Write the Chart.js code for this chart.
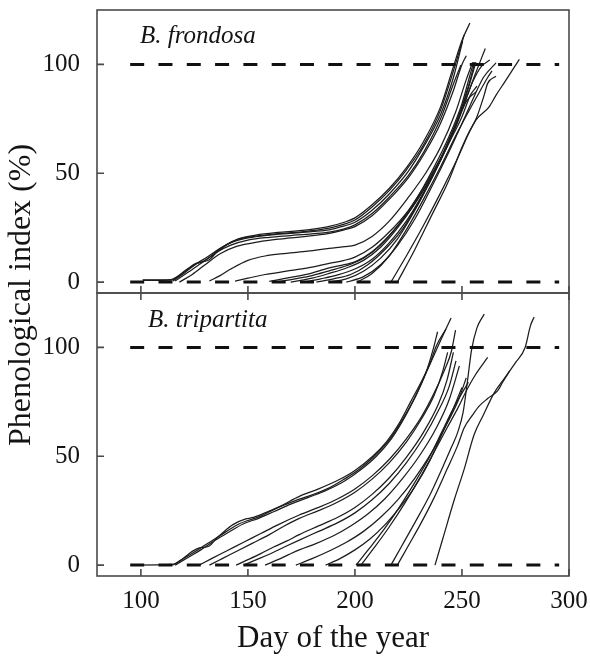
<!DOCTYPE html>
<html>
<head>
<meta charset="utf-8">
<script src="https://cdn.jsdelivr.net/npm/chart.js@4.4.0/dist/chart.umd.min.js"></script>
<style>
  html, body { margin: 0; padding: 0; background: #ffffff; }
  #wrap { position: relative; width: 590px; height: 658px; }
  canvas { position: absolute; left: 0; top: 0; }
</style>
</head>
<body>
<div id="wrap">
  <canvas id="topChart" width="590" height="658"></canvas>
  <canvas id="bottomChart" width="590" height="658"></canvas>
</div>
<script>
// ---------- axis ticks / labels ----------
const xTicks = [100, 150, 200, 250, 300];
const yTicks = [0, 50, 100];
const xTitle = 'Day of the year';
const yTitle = 'Phenological index (%)';
const topLabel = 'B. frondosa';
const bottomLabel = 'B. tripartita';

// ---------- dashed reference levels ----------
const refLevels = [0, 100];
const refDays = [95, 295.4];

// ---------- B. frondosa curves: [day, index %] ----------
const bf01 = [[100.8,1],[110,1],[114,1.2],[121,5.5],[125.7,8.6],[128.8,9.3],[131.9,10.3],[135,13.2],[139.7,17],[145.9,20],[153.7,21.6],[164,22.8],[174,23.6],[182,24.6],[188,25.6],[195,27.5],[200,29.5],[208,35.5],[216,43],[224,52.5],[232,64.5],[240,80.5],[246,99],[250,111],[253.7,119]];
const bf02 = [[101,0.8],[114,0.9],[120,4.5],[125,8],[129,9.5],[133,12],[138,16],[145,19.5],[153,21],[164,22.3],[174,23],[182,23.9],[188,24.8],[195,26.6],[200,28.5],[208,34.5],[216,42],[224,51.5],[232,63],[240,79],[246,97],[251,113.5]];
const bf03 = [[115,0.5],[120,4],[126,8.5],[131,11.5],[137,15.5],[143,18.5],[150,20.3],[160,21.6],[170,22.4],[180,23.2],[188,24],[195,25.8],[200,27.5],[208,33],[216,40.5],[225,51],[232,62],[240,77],[246,94],[250.3,110.7]];
const bf04 = [[116,0.5],[122,4.5],[128,8.5],[135,13.5],[142,17],[150,19.3],[160,20.6],[170,21.4],[180,22.2],[188,23],[195,24.5],[200,26.3],[208,31.5],[216,39],[225,49],[232,59.5],[240,75],[246,91],[249.5,99.7]];
const bf05 = [[118,0],[124,3.5],[130,8],[137,13],[145,16.5],[155,18.5],[165,19.8],[175,20.8],[188,22.4],[195,24],[200,25.5],[208,30.5],[216,38],[225,48],[233,60],[240,73],[246,88],[250,100],[252,104]];
const bf06 = [[132,0.5],[137,3],[142,6],[150,10],[158,12],[168,13.2],[178,14.2],[188,15.5],[195,16.3],[200,17],[208,21],[216,28],[225,39],[233,50],[240,62],[247,78],[252,93],[255,101]];
const bf07 = [[144,0.5],[150,1.8],[158,3.5],[168,5],[178,6.5],[188,8.6],[195,10],[200,11.5],[208,16],[216,23],[225,33],[233,45],[240,57],[247,72],[252,86],[256.5,101]];
const bf08 = [[160,0.3],[168,1.8],[178,3.7],[188,6.5],[195,8],[200,9.3],[208,14],[216,21.5],[225,32],[233,44],[241,58],[248,75],[253,90],[256,101]];
const bf09 = [[163,0],[172,1.5],[180,3],[188,5.2],[196,7.5],[204,11],[212,17],[220,26],[228,37],[236,51],[244,67],[250,82],[254,96],[255.5,101]];
const bf10 = [[170,0],[180,1.8],[188,4],[196,6.5],[204,10],[212,16],[220,25],[228,36],[236,49],[244,65],[250,79],[256,95],[260.9,107.3]];
const bf11 = [[176,0],[184,1.5],[192,3.3],[200,6],[208,10.5],[216,18],[224,28],[232,41],[240,56],[247,71],[252,83],[256.5,87.4]];
const bf12 = [[182,0],[190,1.5],[198,3.5],[206,8],[214,15],[222,24],[230,37],[238,52],[245,68],[251,82],[255,92],[259,99],[263,102]];
const bf13 = [[188,0],[196,1.5],[204,5],[212,11],[220,20],[228,33],[236,48],[244,64],[250,76],[254,86],[257,90]];
const bf14 = [[196,0],[204,2.5],[212,8],[220,17],[228,29],[236,44],[244,60],[251,75],[256,86],[260,94],[265.9,100.7]];
const bf15 = [[201,0],[208,4],[216,12],[224,24],[232,38],[240,53],[248,69],[254,80],[258,87],[262,94],[264,97]];
const bf16 = [[216.8,0],[224,12],[232,26],[240,41],[248,57],[253,68],[257,76],[260.4,86],[262,91.3],[265.9,94.6]];
const bf17 = [[219.8,0],[228,15],[236,31],[244,47],[250,62],[256.5,74.4],[262.7,80.5],[266,86],[270,92],[276.8,102.3]];
const frondosaSeries = [bf01,bf02,bf03,bf04,bf05,bf06,bf07,bf08,bf09,bf10,bf11,bf12,bf13,bf14,bf15,bf16,bf17];

// ---------- B. tripartita curves: [day, index %] ----------
const bt01 = [[96,0],[114.8,0.3],[119,2.5],[124,6.3],[127,7.8],[132,8.8],[135,12],[138,14.7],[143,18.6],[149,21.2],[152,21.8],[158,24],[165,27],[174,31.6],[183,35],[192.7,39.3],[200,43.5],[208.3,50],[215,57],[220.8,65.4],[226,75],[231.6,85.4],[235,92.5],[238,100.7],[242.5,108.4]];
const bt02 = [[114.8,0],[120,3],[125,6],[130,9.2],[135,12.3],[140,15.5],[146,19],[150,20.5],[156,22.5],[162,25.5],[168,28],[174,30.3],[180,32.3],[188,35.5],[195,39.5],[202,44],[209,50],[216,57.5],[222,66.5],[228,77],[233,88],[236.5,99],[238.6,107.2]];
const bt03 = [[116,0],[122,3.5],[128,7],[134,11],[140,14.5],[148,19],[155,21.5],[162,24.5],[170,28],[178,31],[187,34.5],[195,38.5],[203,44],[210,50],[217,58],[223,67.5],[229,79],[234,90],[239,101],[244.9,113.5]];
const bt04 = [[127.2,0],[133,3],[140,6.5],[148,10.5],[156,14.5],[164,18.5],[174,23],[183,26.5],[192,30.5],[200,35],[208,41],[216,48.5],[224,58],[231,68],[237,79],[242,90],[245,98],[247,108]];
const bt05 = [[132,0],[138,3],[145,6.5],[152,10],[160,14],[167,18],[174,21.5],[183,25],[192,29],[200,33.5],[208,39.5],[216,47],[224,56.5],[231,67],[237,78],[241,89],[243.3,97.7]];
const bt06 = [[144.5,0],[150,2.5],[156,5.3],[162,8.3],[168,11],[174,14],[183,18],[192,22],[200,26.5],[208,32.5],[216,40],[224,49.5],[232,61],[239,74],[243,85],[246,97.7]];
const bt07 = [[148,0],[154,2.5],[160,5],[167,8.3],[174,11.5],[183,15.5],[192,19.5],[200,24],[208,30],[216,37.5],[224,47],[232,58.5],[239,71],[244,82],[247.2,93.8]];
const bt08 = [[158,0],[164,2.5],[169,4.8],[174,7],[182,10],[190,13.5],[198,18],[206,23.5],[214,30.5],[222,39.5],[230,50],[238,63],[244,76],[248.8,91.5]];
const bt09 = [[172.4,0],[180,3],[188,6.5],[196,10.5],[204,15.5],[212,22],[220,30],[228,40],[236,52],[243,65],[248,75],[252,86]];
const bt10 = [[186.3,0],[193,3],[200,7],[207,12],[214,18.5],[221,26.5],[228,36],[235,48],[241,61],[246,72],[250,81.6]];
const bt11 = [[200.5,0],[207,8],[214,17],[221,27],[228,38],[235,50],[241,62],[246,72],[250,79],[253,84]];
const bt12 = [[202.8,0],[209,8],[216,17.5],[223,28],[230,39.5],[237,52],[243,63],[248,72],[252,80],[256,87],[262,95.4]];
const bt13 = [[216.8,0],[222,9],[228,19.5],[234.7,31.6],[241,45],[245,54],[248,61],[250.5,70],[252.5,84],[254.5,99],[257,109],[260.4,115.3]];
const bt14 = [[219.8,0],[225,9],[231,19.5],[237,31],[243,44],[248,55],[251,63],[255,69],[258,73],[262,76.5],[266.6,80],[269,84],[272.3,89.2]];
const bt15 = [[237.4,0],[241,12],[246.4,30],[251,44],[255.7,60],[260,69],[265,79],[270,86],[275,93],[279.5,100],[282,110],[283.7,114]];
const tripartitaSeries = [bt01,bt02,bt03,bt04,bt05,bt06,bt07,bt08,bt09,bt10,bt11,bt12,bt13,bt14,bt15];

// ---------- styling / layout ----------
const FONT = '"Liberation Serif", "Times New Roman", serif';
const INK = '#141414';
const X_MIN = 79.5, X_MAX = 300, Y_MIN = -5, Y_MAX = 125;

function buildDatasets(series) {
  const ds = [];
  refLevels.forEach(level => {
    ds.push({
      data: refDays.map(d => ({x: d, y: level})),
      borderColor: '#111',
      borderWidth: 3,
      borderDash: [14, 14.3],
      borderCapStyle: 'butt',
      pointRadius: 0,
      tension: 0,
      order: 0
    });
  });
  series.forEach(s => {
    ds.push({
      data: s.map(p => ({x: p[0], y: p[1]})),
      borderColor: '#1c1c1c',
      borderWidth: 1.25,
      pointRadius: 0,
      cubicInterpolationMode: 'monotone',
      fill: false,
      order: 1
    });
  });
  return ds;
}

const framePlugin = {
  id: 'frame',
  afterDraw(chart, args, opts) {
    const {ctx, chartArea: {left, right, top, bottom}, scales: {x, y}} = chart;
    ctx.save();
    ctx.strokeStyle = '#4a4a4a';
    ctx.lineWidth = 1.6;
    ctx.strokeRect(left, top, right - left, bottom - top);
    ctx.beginPath();
    xTicks.forEach(v => {
      const px = x.getPixelForValue(v);
      ctx.moveTo(px, bottom); ctx.lineTo(px, bottom - 7);
      if (opts.topTicks) { ctx.moveTo(px, top); ctx.lineTo(px, top + 7); }
    });
    yTicks.forEach(v => {
      const py = y.getPixelForValue(v);
      ctx.moveTo(left, py); ctx.lineTo(left + 7, py);
    });
    ctx.stroke();
    ctx.fillStyle = INK;
    ctx.font = 'italic 25px ' + FONT;
    ctx.textBaseline = 'alphabetic';
    ctx.textAlign = 'left';
    ctx.fillText(opts.label, left + opts.dx, top + opts.dy);
    if (opts.yTitle) {
      ctx.translate(opts.yTitleX, opts.yTitleY);
      ctx.rotate(-Math.PI / 2);
      ctx.font = '32px ' + FONT;
      ctx.textAlign = 'center';
      ctx.textBaseline = 'middle';
      ctx.fillText(yTitle, 0, 0);
    }
    ctx.restore();
  }
};

function makeChart(id, series, cfg) {
  return new Chart(document.getElementById(id), {
    type: 'line',
    data: { datasets: buildDatasets(series) },
    plugins: [framePlugin],
    options: {
      responsive: false,
      animation: false,
      devicePixelRatio: 1,
      layout: { padding: { left: 0, right: 21, top: cfg.padTop, bottom: cfg.padBottom } },
      plugins: {
        legend: { display: false },
        tooltip: { enabled: false },
        frame: cfg.frame
      },
      scales: {
        x: {
          type: 'linear', min: X_MIN, max: X_MAX,
          afterBuildTicks: s => { s.ticks = xTicks.map(v => ({value: v})); },
          grid: { display: false, drawTicks: false },
          border: { display: false },
          ticks: { display: cfg.showX, autoSkip: false, maxRotation: 0, padding: cfg.xTickPad,
                   color: INK, font: { family: FONT, size: 25 } },
          title: { display: cfg.showX, text: xTitle, color: INK,
                   font: { family: FONT, size: 31, lineHeight: 1 }, padding: { top: 0, bottom: cfg.xTitlePad } },
          afterFit: s => { s.height = cfg.xHeight; s.paddingLeft = 0; s.paddingRight = 0; }
        },
        y: {
          type: 'linear', min: Y_MIN, max: Y_MAX,
          afterBuildTicks: s => { s.ticks = yTicks.map(v => ({value: v})); },
          grid: { display: false, drawTicks: false },
          border: { display: false },
          ticks: { padding: 17, color: INK, font: { family: FONT, size: 25 } },
          afterFit: s => { s.width = 97; s.paddingTop = 0; s.paddingBottom = 0; }
        }
      }
    }
  });
}

makeChart('topChart', frondosaSeries, {
  padTop: 10, padBottom: 365, xHeight: 0, showX: false, xTickPad: 0, xTitlePad: 0,
  frame: { label: topLabel, dx: 43, dy: 33, topTicks: false }
});
makeChart('bottomChart', tripartitaSeries, {
  padTop: 293, padBottom: 0, xHeight: 82, showX: true, xTickPad: 10, xTitlePad: 4,
  frame: { label: bottomLabel, dx: 51, dy: 34, topTicks: true, yTitle: true, yTitleX: 22, yTitleY: 295 }
});
</script>
</body>
</html>
